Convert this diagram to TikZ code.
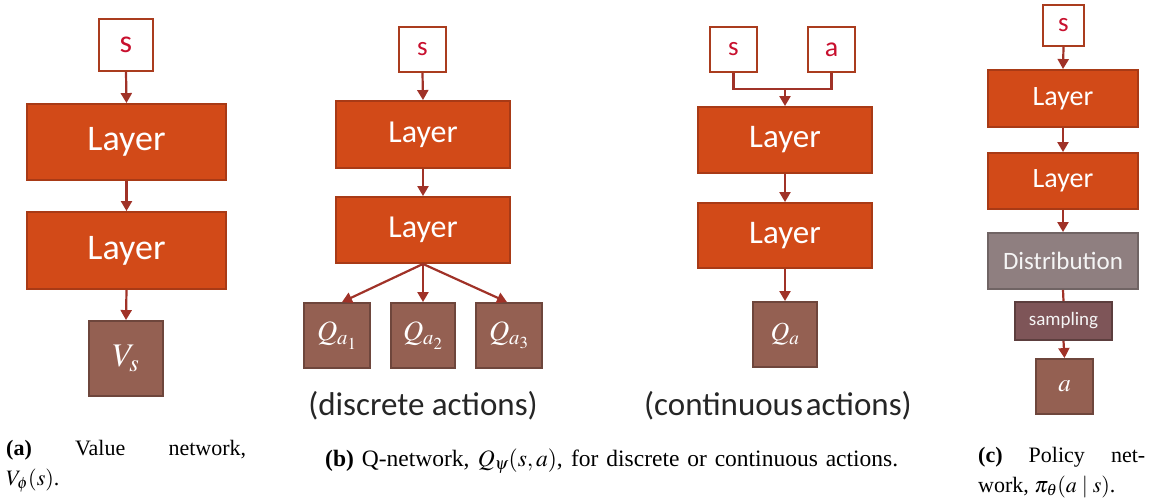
\documentclass[tikz,border=0pt]{standalone}
\usepackage{mathptmx}
\usepackage{fontspec}
\setmainfont{Liberation Serif}
\newfontfamily\calib{Carlito}
\usetikzlibrary{arrows.meta,calc}

\definecolor{lfill}{RGB}{210,74,24}
\definecolor{lbord}{RGB}{168,58,22}
\definecolor{ofill}{RGB}{148,96,82}
\definecolor{obord}{RGB}{110,70,60}
\definecolor{dfill}{RGB}{143,127,128}
\definecolor{dbord}{RGB}{112,100,100}
\definecolor{spfill}{RGB}{126,85,88}
\definecolor{spbord}{RGB}{92,62,62}
\definecolor{sbord}{RGB}{170,60,30}
\definecolor{sred}{RGB}{200,16,46}
\definecolor{acol}{RGB}{160,50,40}

\newcommand{\fsz}[1]{\fontsize{#1}{#1}\selectfont}

\begin{document}
\begin{tikzpicture}[x=1pt,y=-1pt,
  box/.style={rectangle, inner sep=0pt, line width=1.9pt},
  sz/.style 2 args={minimum width=#1pt, minimum height=#2pt},
  inbox/.style={box, draw=sbord, fill=white, text=sred},
  layer/.style={box, draw=lbord, fill=lfill, text=white},
  outbox/.style={box, draw=obord, fill=ofill, text=white},
  distbox/.style={box, draw=dbord, fill=dfill, text=white!92!gray},
  sampbox/.style={box, draw=spbord, fill=spfill, text=white!92!gray},
  link/.style={draw=acol, line width=2.2pt},
  arr/.style={link, -{Triangle[length=10pt,width=11pt]}},
  captext/.style={inner sep=0pt, font=\fsz{22}},
  note/.style={inner sep=0pt, font=\calib\fsz{33}, text=black!85}
]
\useasboundingbox (0,0) rectangle (1160,503);

% ---- (a) value network
\node[inbox, sz={54}{52}, font=\calib\fsz{32}] (sA) at (126,45) {s};
\node[layer, sz={199}{76}, font=\calib\fsz{36}] (l1A) at (126.5,142) {Layer};
\node[layer, sz={199}{77}, font=\calib\fsz{36}] (l2A) at (126.5,250.5) {Layer};
\node[outbox, sz={74}{75}, font=\fsz{33}] (vA) at (126,358.5) {$V_s$};
\draw[arr] (sA.south) -- (l1A.north);
\draw[arr] (l1A.south) -- (l2A.north);
\draw[arr] (l2A.south) -- (vA.north);

% ---- (b) Q-network, discrete actions
\node[inbox, sz={47}{45}, font=\calib\fsz{27}] (sB) at (422.5,49.5) {s};
\node[layer, sz={174}{67}, font=\calib\fsz{32}] (l1B) at (423,134.5) {Layer};
\node[layer, sz={174}{66}, font=\calib\fsz{32}] (l2B) at (423,230) {Layer};
\node[outbox, sz={66}{65}, font=\fsz{28}] (q1) at (337,335.5) {$Q_{a_1}$};
\node[outbox, sz={64}{65}, font=\fsz{28}] (q2) at (423,335.5) {$Q_{a_2}$};
\node[outbox, sz={66}{65}, font=\fsz{28}] (q3) at (509,335.5) {$Q_{a_3}$};
\draw[arr] (sB.south) -- (l1B.north);
\draw[arr] (l1B.south) -- (l2B.north);
\draw[arr] (l2B.south) -- ($(q1.north)+(5,0)$);
\draw[arr] (l2B.south) -- (q2.north);
\draw[arr] (l2B.south) -- ($(q3.north)+(-2,0)$);
\node[note] (nB) at (423,406) {(discrete actions)};

% ---- (b) Q-network, continuous actions
\node[inbox, sz={47}{45}, font=\calib\fsz{27}] (sC) at (733.5,49.5) {s};
\node[inbox, sz={47}{45}, font=\calib\fsz{28}] (aC) at (831.5,49.5) {a};
\node[layer, sz={174}{66}, font=\calib\fsz{33}] (l1C) at (785,140) {Layer};
\node[layer, sz={174}{65}, font=\calib\fsz{33}] (l2C) at (785,235.5) {Layer};
\node[outbox, sz={64}{65}, font=\fsz{26}] (qC) at (785,334.5) {$Q_a$};
\coordinate (jC) at ($(l1C.north)+(0,-17)$);
\draw[link] (sC.south) |- (jC) -| (aC.south);
\draw[arr] (jC) -- (l1C.north);
\draw[arr] (l1C.south) -- (l2C.north);
\draw[arr] (l2C.south) -- (qC.north);
\node[note] (nC) at (778,406) {(continuous\hspace{3pt}actions)};

% ---- (c) policy network
\node[inbox, sz={41}{41}, font=\calib\fsz{27}] (sD) at (1063.5,25.5) {s};
\node[layer, sz={150}{57}, font=\calib\fsz{28}] (l1D) at (1063,98.5) {Layer};
\node[layer, sz={150}{56}, font=\calib\fsz{28}] (l2D) at (1063,181) {Layer};
\node[distbox, sz={150}{56}, font=\calib\fsz{25}] (dD) at (1063,261) {Distribution};
\node[sampbox, sz={97}{38}, font=\calib\fsz{19}] (spD) at (1063.5,321) {sampling};
\node[outbox, sz={57}{55}, font=\fsz{25}] (aD) at (1064.5,386.5) {$a$};
\draw[arr] (sD.south) -- (l1D.north);
\draw[arr] (l1D.south) -- (l2D.north);
\draw[arr] (l2D.south) -- (dD.north);
\draw[link] (dD.south) -- (spD.north);
\draw[arr] (spD.south) -- (aD.north);

% ---- sub-captions (justified lines)
\node[captext, anchor=base west] (ca1) at (6,455)
  {\makebox[240pt][s]{\textbf{(a)} Value network,}};
\node[captext, anchor=base west] (ca2) at (6,485) {$V_{\phi}(s)$.};

\node[captext, anchor=base west, font=\fsz{23.5}] (cb) at (325,466)
  {\makebox[573pt][s]{\textbf{(b)} Q-network, $Q_{\psi}(s,a)$, for discrete or continuous actions.}};

\node[captext, anchor=base west] (cc1) at (978,462)
  {\makebox[167pt][s]{\textbf{(c)} Policy net-}};
\node[captext, anchor=base west] (cc2) at (978,492) {work, $\pi_{\theta}(a \mid s)$.};
\end{tikzpicture}
\end{document}
